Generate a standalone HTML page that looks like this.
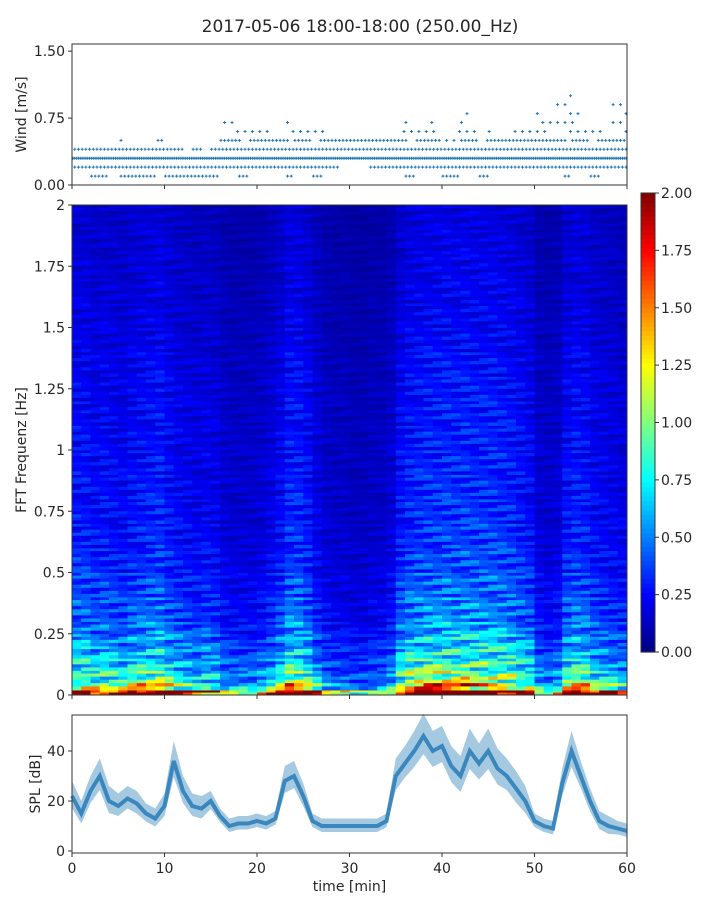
<!DOCTYPE html>
<html><head><meta charset="utf-8"><style>
body{margin:0;background:#fff;font-family:"DejaVu Sans",sans-serif}
svg text{font-family:"DejaVu Sans","Liberation Sans",sans-serif;fill:#262626}
</style></head><body>
<svg id="c" width="720" height="900">
<text x="360" y="32" text-anchor="middle" font-size="17">2017-05-06 18:00-18:00 (250.00_Hz)</text>
<g id="wind"></g>
<g id="spec"></g>
<g id="cbar"></g>
<g id="spl"></g>
</svg>
<script>
// ---- data ----
const minutes=[0,1,2,3,4,5,6,7,8,9,10,11,12,13,14,15,16,17,18,19,20,21,22,23,24,25,26,27,28,29,30,31,32,33,34,35,36,37,38,39,40,41,42,43,44,45,46,47,48,49,50,51,52,53,54,55,56,57,58,59];
const windMin=[0.2,0.2,0.1,0.1,0.2,0.1,0.1,0.1,0.1,0.2,0.1,0.1,0.1,0.1,0.1,0.1,0.2,0.2,0.1,0.2,0.2,0.2,0.2,0.1,0.2,0.2,0.1,0.2,0.2,0.3,0.3,0.3,0.2,0.2,0.2,0.2,0.1,0.2,0.2,0.2,0.1,0.1,0.2,0.2,0.1,0.2,0.2,0.2,0.2,0.2,0.2,0.2,0.2,0.1,0.2,0.2,0.1,0.2,0.2,0.2];
const windMax=[0.4,0.4,0.4,0.4,0.4,0.5,0.4,0.4,0.4,0.5,0.4,0.4,0.3,0.4,0.3,0.4,0.7,0.7,0.6,0.6,0.6,0.6,0.6,0.7,0.6,0.6,0.6,0.6,0.5,0.5,0.5,0.5,0.5,0.5,0.5,0.6,0.7,0.6,0.7,0.6,0.6,0.6,0.8,0.7,0.5,0.6,0.6,0.6,0.6,0.6,0.8,0.7,0.9,1.0,0.8,0.7,0.6,0.6,0.9,0.9];
const windTicks=[0,0.75,1.5];
const windTickLabels=["0.00","0.75","1.50"];
const timeEnergy=[1.0,1.0,0.9,0.95,0.9,0.85,0.95,1.0,1.05,1.1,0.95,0.85,0.8,0.75,0.8,0.75,0.6,0.55,0.55,0.55,0.6,0.7,0.85,1.1,1.1,0.95,0.7,0.55,0.5,0.5,0.45,0.45,0.5,0.5,0.6,0.95,1.1,1.15,1.2,1.2,1.25,1.2,1.25,1.2,1.2,1.2,1.15,1.1,1.0,0.9,0.6,0.55,0.6,0.95,1.05,1.0,0.85,0.8,0.75,0.7];
const freqBins=[0,0.02,0.05,0.1,0.15,0.2,0.25,0.3,0.4,0.5,0.6,0.7,0.8,0.9,1.0,1.1,1.2,1.3,1.4,1.5,1.6,1.7,1.8,1.9,2.0];
const freqProfile=[2.3,1.25,0.9,0.75,0.65,0.58,0.5,0.44,0.39,0.34,0.31,0.29,0.28,0.27,0.26,0.25,0.24,0.23,0.21,0.2,0.19,0.18,0.17,0.16];
const freqTicks=[0,0.25,0.5,0.75,1,1.25,1.5,1.75,2];
const freqTickLabels=["0","0.25","0.5","0.75","1","1.25","1.5","1.75","2"];
const cbTicks=[0,0.25,0.5,0.75,1,1.25,1.5,1.75,2];
const splValues=[22,15,24,30,20,18,21,19,15,13,18,36,24,18,17,20,14,10,11,11,12,11,13,28,30,22,12,10,10,10,10,10,10,10,12,30,35,40,46,40,42,34,30,40,35,40,33,30,25,20,12,10,9,27,40,30,20,12,10,9,8];
const splSpread=[6,5,6,7,6,5,5,5,4,4,5,8,6,5,5,4,3,3,3,3,3,3,3,6,6,5,3,3,3,3,3,3,3,3,3,7,7,8,9,8,8,8,8,9,8,9,8,7,7,6,3,3,3,6,8,6,5,4,4,3,3];
const timeTicks=[0,10,20,30,40,50,60];
// visual texture pattern for spectrogram rows (styling only)
const texture=[1.0,0.7,1.25,0.85,1.1,0.6,1.35,0.9,0.75,1.15,0.95,1.3,0.65,1.05,0.8,1.2];
// ---- helpers ----
const NS="http://www.w3.org/2000/svg";
function mk(tag,attrs,parent){const e=document.createElementNS(NS,tag);for(const k in attrs)e.setAttribute(k,attrs[k]);parent.appendChild(e);return e;}
const X0=72,X1=627;
const xT=t=>X0+(t/60)*(X1-X0);
function jet(v){v=Math.max(0,Math.min(1,v));const c=x=>Math.round(255*Math.max(0,Math.min(1,1.5-Math.abs(x))));return `rgb(${c(4*v-3)},${c(4*v-2)},${c(4*v-1)})`;}
function axisFrame(g,y0,y1){const r=mk('rect',{x:X0,y:y0,width:X1-X0,height:y1-y0,fill:'none',stroke:'#333','stroke-width':1},g);}
function yTick(g,y,label,name){mk('line',{x1:X0-4,x2:X0,y1:y,y2:y,stroke:'#333'},g);const t=mk('text',{x:X0-7,y:y+5,'text-anchor':'end','font-size':14},g);t.textContent=label;}
function xTicks(g,y,labels){timeTicks.forEach(tv=>{mk('line',{x1:xT(tv),x2:xT(tv),y1:y,y2:y+4,stroke:'#333'},g);if(labels){const t=mk('text',{x:xT(tv),y:y+20,'text-anchor':'middle','font-size':14},g);t.textContent=tv;}});}
// ---- wind ----
(function(){const g=document.getElementById('wind');const Y0=44,Y1=185;const yW=v=>Y1-(v/1.58)*(Y1-Y0);
 minutes.forEach((m,i)=>{for(let k=0;k<5;k++){const x=xT(m+k/5+0.1);for(let v=windMin[i];v<=windMax[i]+1e-6;v+=0.1){const lv=Math.round(v*10);if(lv!==3&&(k+lv+i)%2===0)continue;if(v>windMin[i]+0.35&&(k+i)%3!==0)continue;const y=yW(v);const d=mk('path',{d:`M${x-1.5},${y}h3M${x},${y-1.5}v3`,stroke:'#1f77b4','stroke-width':1},g);}}});
 axisFrame(g,Y0,Y1);windTicks.forEach((v,i)=>yTick(g,yW(v),windTickLabels[i],'wind-y-tick'));xTicks(g,Y1,false);
 const t=mk('text',{x:26,y:(Y0+Y1)/2,'text-anchor':'middle','font-size':14,transform:`rotate(-90 26 ${(Y0+Y1)/2})`},g);t.textContent='Wind [m/s]';})();
// ---- spectrogram ----
(function(){const g=document.getElementById('spec');const Y0=205,Y1=695;const yF=f=>Y1-(f/2)*(Y1-Y0);
 minutes.forEach((m,i)=>{for(let j=0;j<freqBins.length-1;j++){const y0=yF(freqBins[j+1]),y1=yF(freqBins[j]);const n=Math.max(1,Math.round((y1-y0)/3));for(let s=0;s<n;s++){const tx=texture[(i*7+j*5+s*3)%texture.length];const v=timeEnergy[i]*freqProfile[j]*tx;const r=mk('rect',{x:xT(m),y:y0+s*(y1-y0)/n,width:xT(m+1)-xT(m)+0.5,height:(y1-y0)/n+0.4,fill:jet(v/2)},g);}}});
 axisFrame(g,Y0,Y1);freqTicks.forEach((v,i)=>yTick(g,yF(v),freqTickLabels[i],'freq-y-tick'));xTicks(g,Y1,false);
 const t=mk('text',{x:26,y:(Y0+Y1)/2,'text-anchor':'middle','font-size':14,transform:`rotate(-90 26 ${(Y0+Y1)/2})`},g);t.textContent='FFT Frequenz [Hz]';})();
// ---- colorbar ----
(function(){const g=document.getElementById('cbar');const CX=641,CW=14,Y0=193,Y1=652;const yC=v=>Y1-(v/2)*(Y1-Y0);
 for(let k=0;k<100;k++){const r=mk('rect',{x:CX,y:Y1-(k+1)*(Y1-Y0)/100,width:CW,height:(Y1-Y0)/100+0.6,fill:jet((k+0.5)/100)},g);}
 mk('rect',{x:CX,y:Y0,width:CW,height:Y1-Y0,fill:'none',stroke:'#333'},g);
 cbTicks.forEach(v=>{mk('line',{x1:CX+CW,x2:CX+CW+4,y1:yC(v),y2:yC(v),stroke:'#333'},g);const t=mk('text',{x:CX+CW+6,y:yC(v)+5,'font-size':14},g);t.textContent=v.toFixed(2);});})();
// ---- SPL ----
(function(){const g=document.getElementById('spl');const Y0=715,Y1=853;const yS=v=>Y1-((v+0.8)/55.2)*(Y1-Y0);
 let up='',dn='';splValues.forEach((v,i)=>{up+=(i?'L':'M')+xT(i)+','+yS(v+splSpread[i]);});for(let i=splValues.length-1;i>=0;i--)dn+='L'+xT(i)+','+yS(splValues[i]-splSpread[i]*0.8);
 const a=mk('path',{d:up+dn+'Z',fill:'#1f77b4','fill-opacity':0.4},g);
 let d='';splValues.forEach((v,i)=>{d+=(i?'L':'M')+xT(i)+','+yS(v);});const l=mk('path',{d:d,fill:'none',stroke:'#1f77b4','stroke-width':4,'stroke-opacity':0.8},g);
 axisFrame(g,Y0,Y1);[0,20,40].forEach(v=>yTick(g,yS(v),String(v),'spl-y-tick'));xTicks(g,Y1,true);
 const t=mk('text',{x:40,y:(Y0+Y1)/2,'text-anchor':'middle','font-size':14,transform:`rotate(-90 40 ${(Y0+Y1)/2})`},g);t.textContent='SPL [dB]';
 const xl=mk('text',{x:(X0+X1)/2,y:891,'text-anchor':'middle','font-size':14},g);xl.textContent='time [min]';})();
</script>
</body></html>
